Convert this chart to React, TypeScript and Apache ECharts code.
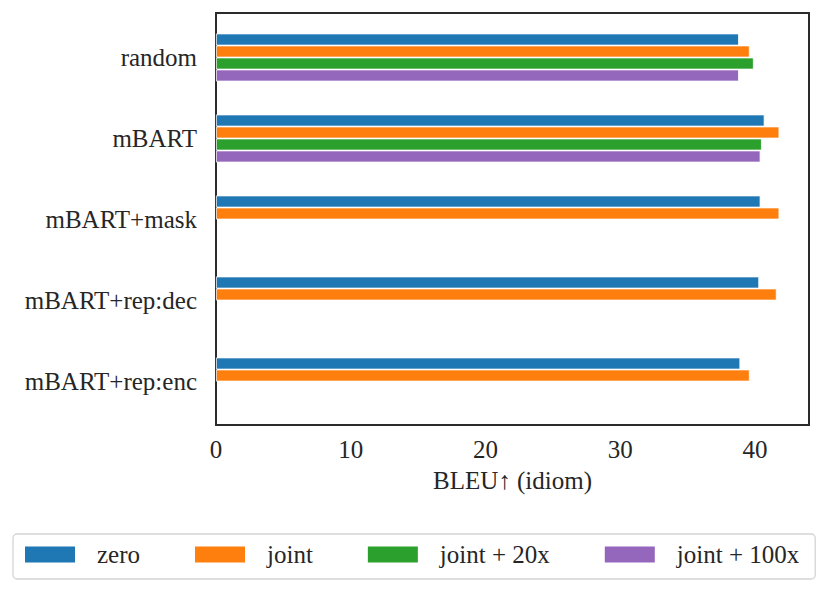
import React, { useEffect, useRef } from "react";
import * as echarts from "echarts";

const categories = ["random", "mBART", "mBART+mask", "mBART+rep:dec", "mBART+rep:enc"];
const zeroValues = [38.8, 40.7, 40.4, 40.3, 38.9];
const jointValues = [39.6, 41.8, 41.8, 41.6, 39.6];
const joint20Values: (number | null)[] = [39.9, 40.5, null, null, null];
const joint100Values: (number | null)[] = [38.8, 40.4, null, null, null];
const seriesNames = ["zero", "joint", "joint + 20x", "joint + 100x"];
const colors = ["#1f77b4", "#ff7f0e", "#2ca02c", "#9467bd"];
const xTicks = [0, 10, 20, 30, 40];

const FONT = "Liberation Serif, Times New Roman, serif";

export default function App() {
  const ref = useRef<HTMLDivElement>(null);
  useEffect(() => {
    if (!ref.current) return;
    const chart = echarts.init(ref.current, null, { renderer: "svg" });
    const allSeries = [zeroValues, jointValues, joint20Values, joint100Values];
    const txt = { fontSize: 25, color: "#262626", fontFamily: FONT };
    chart.setOption({
      animation: false,
      backgroundColor: "#ffffff",
      textStyle: { fontFamily: FONT },
      grid: [
        {
          left: 216,
          right: 21,
          top: 13,
          bottom: 168,
          show: true,
          borderColor: "#2b2b2b",
          borderWidth: 2,
          backgroundColor: "transparent",
        },
        { left: 216, right: 21, top: 17, bottom: 171, show: false },
      ],
      xAxis: [
        { type: "value", gridIndex: 0, show: false, min: 0, max: 1 },
        {
          type: "value",
          gridIndex: 1,
          min: 0,
          max: 44,
          interval: 10,
          axisLine: { show: false },
          axisTick: { show: false },
          splitLine: { show: false },
          axisLabel: {
            ...txt,
            margin: 15,
            formatter: (v: number) => (xTicks.includes(v) ? String(v) : ""),
          },
          name: "BLEU↑ (idiom)",
          nameLocation: "middle",
          nameGap: 46,
          nameTextStyle: { ...txt },
        },
      ],
      yAxis: [
        { type: "value", gridIndex: 0, show: false, min: 0, max: 1 },
        {
          type: "category",
          gridIndex: 1,
          data: categories,
          inverse: true,
          axisLine: { show: false },
          axisTick: { show: false },
          splitLine: { show: false },
          axisLabel: { ...txt, margin: 19 },
        },
      ],
      legend: {
        data: seriesNames.map((n) => ({ name: n, icon: "rect" })),
        left: 13,
        top: 534,
        orient: "horizontal",
        icon: "rect",
        itemWidth: 50,
        itemHeight: 16,
        itemGap: 55,
        itemStyle: { borderWidth: 0 },
        padding: [8, 16, 12, 12],
        borderColor: "#d4d4d4",
        borderWidth: 1.3,
        borderRadius: 4,
        textStyle: { ...txt, lineHeight: 25, padding: [0, 0, 0, 17] },
      },
      series: allSeries.map((vals, i) => ({
        name: seriesNames[i],
        type: "bar",
        xAxisIndex: 1,
        yAxisIndex: 1,
        data: vals.map((v) => (v === null ? "-" : v)),
        barWidth: 12,
        barGap: "0%",
        itemStyle: { color: colors[i], borderColor: "#ffffff", borderWidth: 0.8 },
      })),
    });
    return () => chart.dispose();
  }, []);
  return (
    <div
      ref={ref}
      style={{ position: "fixed", left: 0, top: 0, width: 830, height: 593 }}
    />
  );
}
